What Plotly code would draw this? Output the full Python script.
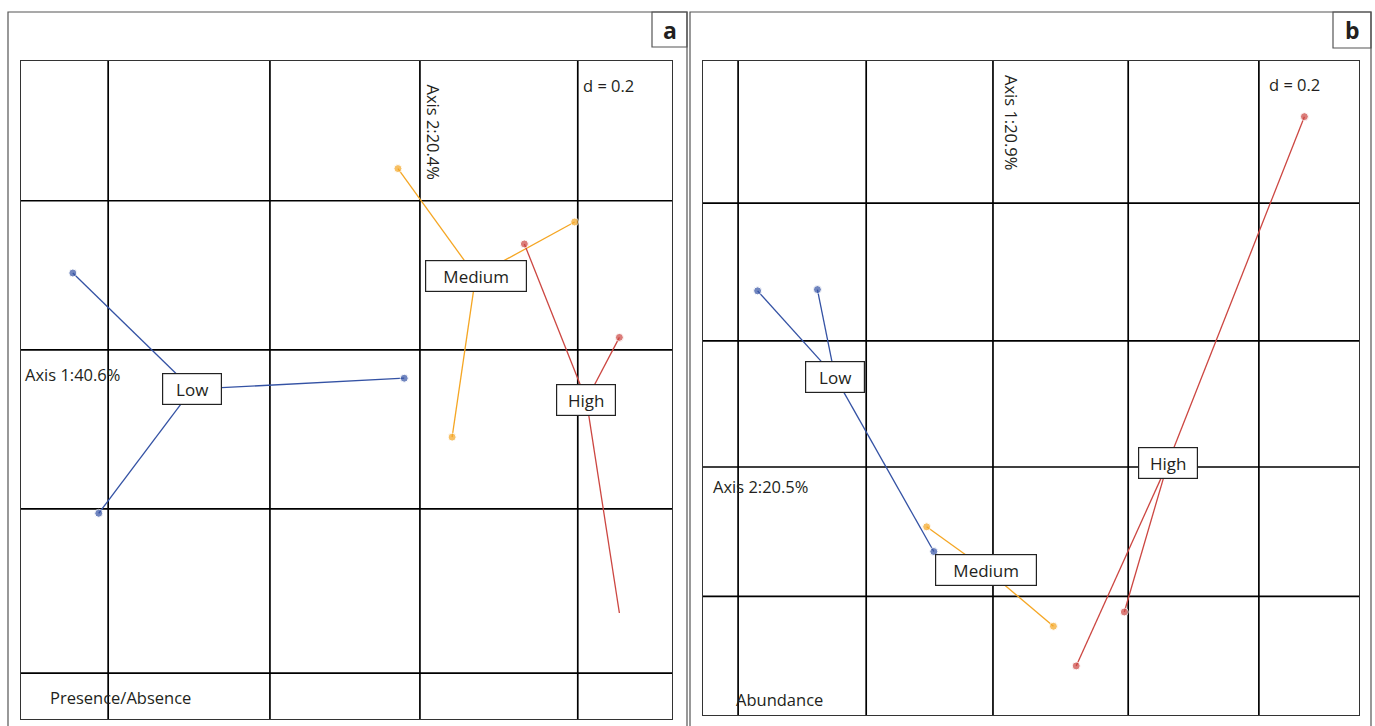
import plotly.graph_objects as go

# ---------------- data (units of the ordination) ----------------
classes = ["Low", "Medium", "High"]
colors = {"Low": "#3452a4", "Medium": "#f5a623", "High": "#cc4641"}

# Panel a : Presence/Absence
a_pts_x = {"Low": [-0.442, -0.020, -0.409],
           "Medium": [-0.028, 0.197, 0.041],
           "High": [0.133, 0.254, 0.254]}
a_pts_y = {"Low": [0.098, -0.036, -0.208],
           "Medium": [0.231, 0.163, -0.111],
           "High": [0.135, 0.016, -0.335]}
a_dot = {"Low": [1, 1, 1], "Medium": [1, 1, 1], "High": [1, 1, 0]}
a_cent_x = {"Low": -0.290, "Medium": 0.071, "High": 0.212}
a_cent_y = {"Low": -0.050, "Medium": 0.094, "High": -0.064}
a_grid_x = [-0.397, -0.191, 0.0, 0.201]
a_grid_y = [0.190, 0.0, -0.2025, -0.4115]

# Panel b : Abundance
b_pts_x = {"Low": [-0.362, -0.270, -0.091],
           "Medium": [-0.102, 0.093],
           "High": [0.479, 0.202, 0.128]}
b_pts_y = {"Low": [0.271, 0.273, -0.130],
           "Medium": [-0.092, -0.245],
           "High": [0.539, -0.223, -0.306]}
b_dot = {"Low": [1, 1, 1], "Medium": [1, 1], "High": [1, 1, 1]}
b_cent_x = {"Low": -0.243, "Medium": -0.010, "High": 0.269}
b_cent_y = {"Low": 0.139, "Medium": -0.158, "High": 0.006}
b_grid_x = [-0.392, -0.195, 0.0, 0.208, 0.409]
b_grid_y = [0.406, 0.194, 0.0, -0.199]

W, H = 1375, 726
FONT = "Open Sans"
TXT = "#231f20"

def px(x):
    return x / W

def py(y):
    return 1 - y / H

fig = go.Figure()

panels = [
    ("x", "y", a_pts_x, a_pts_y, a_dot, a_cent_x, a_cent_y, a_grid_x, a_grid_y),
    ("x2", "y2", b_pts_x, b_pts_y, b_dot, b_cent_x, b_cent_y, b_grid_x, b_grid_y),
]

shapes = []
annotations = []

for xr, yr, PX, PY, DOT, CX, CY, GX, GY in panels:
    # grid
    for g in GX:
        shapes.append(dict(type="line", xref=xr, yref=yr + " domain", x0=g, x1=g, y0=0, y1=1,
                           line=dict(color="#000000", width=1.7), layer="below"))
    for g in GY:
        shapes.append(dict(type="line", xref=xr + " domain", yref=yr, x0=0, x1=1, y0=g, y1=g,
                           line=dict(color="#000000", width=1.7), layer="below"))
    for c in classes:
        lx, ly = [], []
        for xv, yv in zip(PX[c], PY[c]):
            lx += [CX[c], xv, None]
            ly += [CY[c], yv, None]
        fig.add_trace(go.Scatter(x=lx, y=ly, mode="lines", xaxis=xr, yaxis=yr,
                                 line=dict(color=colors[c], width=1.3),
                                 hoverinfo="skip", showlegend=False))
        fig.add_trace(go.Scatter(x=PX[c], y=PY[c], mode="markers", xaxis=xr, yaxis=yr,
                                 marker=dict(color=colors[c], size=[8 * d for d in DOT[c]]),
                                 name=c, showlegend=False))
        bw = 100 if c == "Medium" else 58
        annotations.append(dict(x=CX[c], y=CY[c], xref=xr, yref=yr, text=c, showarrow=False,
                                font=dict(family=FONT, size=17, color=TXT),
                                bgcolor="white", bordercolor="#222222", borderwidth=1.2,
                                borderpad=0, width=bw, height=30,
                                xanchor="center", yanchor="middle"))

# axes
common = dict(showgrid=False, zeroline=False, showticklabels=False, ticks="",
              showline=True, linecolor="#333333", linewidth=1.2, mirror=True)
fig.update_layout(
    xaxis=dict(domain=[px(21), px(672)], range=[-0.508, 0.321], **common),
    yaxis=dict(domain=[py(719), py(61)], range=[-0.470, 0.368], **common),
    xaxis2=dict(domain=[px(703), px(1359)], range=[-0.446, 0.563], anchor="y2", **common),
    yaxis2=dict(domain=[py(715), py(61)], range=[-0.3815, 0.6246], anchor="x2", **common),
)

# outer panel frames and letter boxes
frame = dict(color="#555555", width=1.2)
shapes += [
    dict(type="rect", xref="paper", yref="paper", x0=px(8), x1=px(687), y0=-0.05, y1=py(12), line=frame),
    dict(type="rect", xref="paper", yref="paper", x0=px(690), x1=px(1371), y0=-0.05, y1=py(12), line=frame),
    dict(type="rect", xref="paper", yref="paper", x0=px(652), x1=px(687), y0=py(47), y1=py(12), line=frame),
    dict(type="rect", xref="paper", yref="paper", x0=px(1333), x1=px(1371), y0=py(48), y1=py(12), line=frame),
]

def txt(x, y, s, size=16.5, anchor="left", angle=0, bold=False):
    annotations.append(dict(x=px(x), y=py(y), xref="paper", yref="paper", text=("<b>%s</b>" % s) if bold else s,
                            showarrow=False, textangle=angle,
                            font=dict(family=FONT, size=size, color=TXT),
                            xanchor=anchor, yanchor="middle"))

txt(669.5, 30, "a", size=23, anchor="center", bold=True)
txt(1352, 30, "b", size=23, anchor="center", bold=True)
# panel a texts
txt(23, 374, "Axis 1:40.6%")
txt(433.5, 132, "Axis 2:20.4%", anchor="center", angle=90)
txt(581, 85, "d = 0.2")
txt(48, 697, "Presence/Absence")
# panel b texts
txt(711, 486, "Axis 2:20.5%")
txt(1012, 122, "Axis 1:20.9%", anchor="center", angle=90)
txt(1267, 84, "d = 0.2")
txt(734, 699, "Abundance")

fig.update_layout(width=W, height=H, margin=dict(l=0, r=0, t=0, b=0),
                  paper_bgcolor="white", plot_bgcolor="white",
                  shapes=shapes, annotations=annotations, showlegend=False)

fig.write_html("out.html", config={"displayModeBar": False},
               post_script="document.body.style.margin='0';document.body.style.overflow='hidden';")
